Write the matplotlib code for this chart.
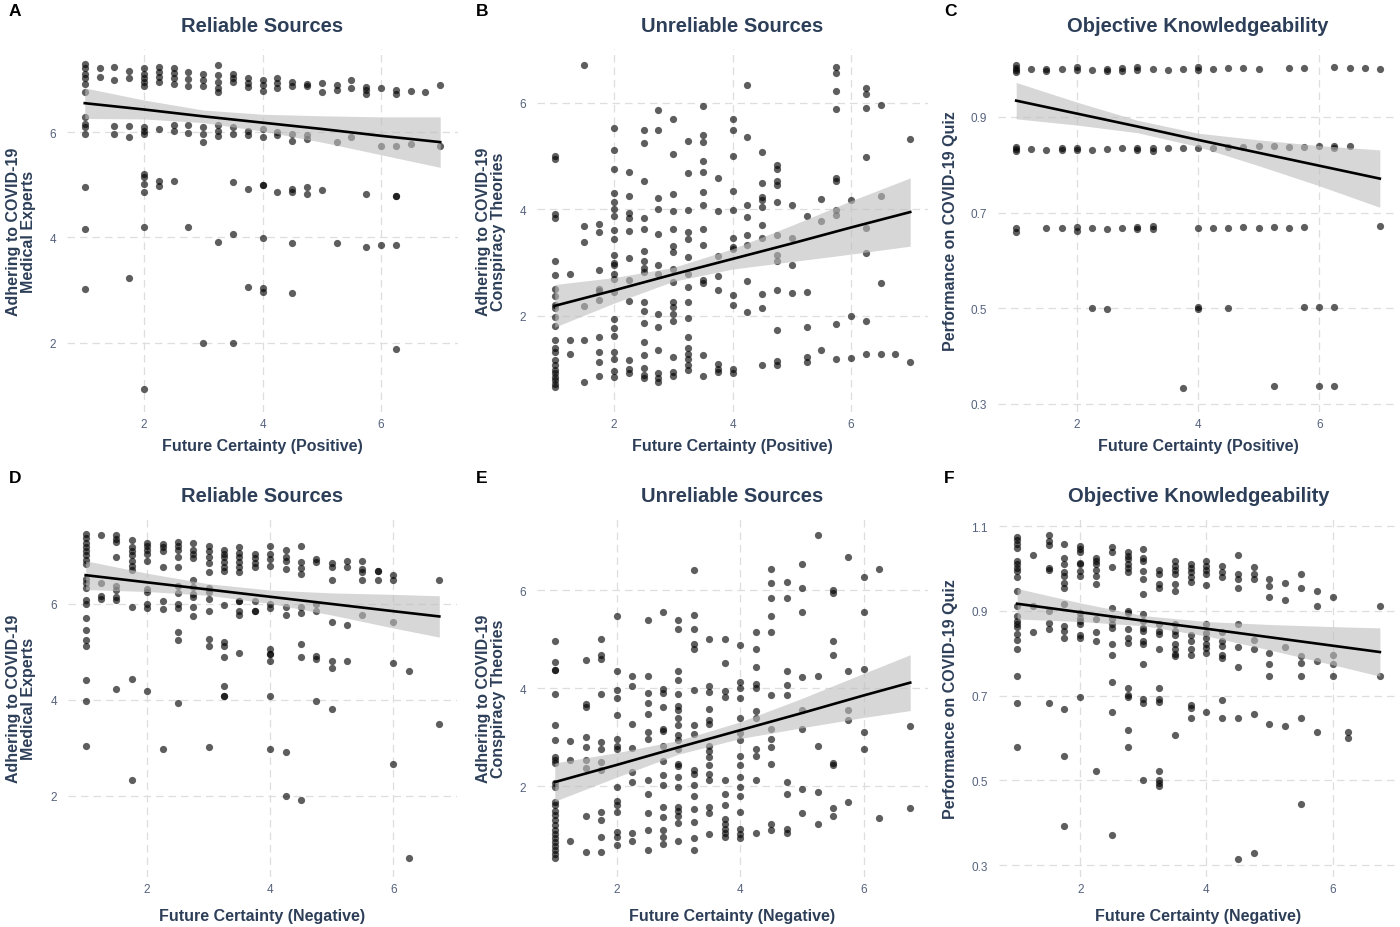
import matplotlib
matplotlib.use("Agg")
import matplotlib.pyplot as plt
import numpy as np

plt.rcParams['font.family'] = ['Liberation Sans', 'DejaVu Sans']

# ---- data: {future certainty: [outcome values]} ----
a_cols = {
    1.0: [7.30, 7.21, 7.11, 7.02, 6.92, 6.76, 6.29, 6.16, 6.10, 5.97, 4.95, 4.15, 3.02],
    1.25: [7.21, 7.05],
    1.5: [7.24, 7.0, 6.11, 5.97],
    1.75: [7.17, 7.03, 6.11, 5.9, 3.22],
    2.0: [7.21, 7.11, 7.02, 6.95, 6.88, 6.10, 6.03, 5.97, 5.21, 5.14, 5.02, 4.86, 4.19, 1.12],
    2.25: [7.24, 7.14, 7.05, 6.95, 6.06, 5.08, 4.98],
    2.5: [7.21, 7.12, 7.02, 6.92, 6.14, 6.03, 5.08],
    2.75: [7.14, 7.01, 6.88, 6.14, 5.99, 4.19],
    3.0: [7.11, 7.0, 6.88, 6.10, 5.97, 5.82, 2.0],
    3.25: [7.27, 7.08, 6.95, 6.84, 6.76, 6.13, 6.03, 5.92, 3.92],
    3.5: [7.11, 7.02, 6.95, 6.10, 5.97, 5.06, 4.06, 2.0],
    3.75: [7.03, 6.94, 6.86, 6.03, 5.94, 4.92, 3.05],
    4.0: [7.0, 6.89, 6.79, 6.06, 5.90, 5.0, 5.0, 3.99, 3.03, 2.97],
    4.25: [7.02, 6.93, 6.84, 6.0, 5.95, 4.86],
    4.5: [6.95, 6.88, 5.97, 5.84, 4.92, 4.87, 3.89, 2.95],
    4.75: [6.92, 6.88, 5.94, 5.86, 4.95, 4.83],
    5.0: [6.94, 6.76, 4.9],
    5.25: [6.90, 6.81, 5.82, 3.89],
    5.5: [7.0, 6.84, 5.9],
    5.75: [6.86, 6.80, 6.73, 4.83, 3.82],
    6.0: [6.83, 5.73, 3.85],
    6.25: [6.81, 6.73, 5.73, 4.79, 4.79, 3.85, 1.87],
    6.5: [6.79, 5.78],
    6.75: [6.76],
    7.0: [6.90, 5.73],
}

b_cols = {
    1.0: [5.01, 4.95, 3.92, 3.84, 3.04, 2.76, 2.51, 2.38, 2.21, 2.15, 1.98, 1.81, 1.54,
          1.39, 1.33, 1.17, 1.08, 0.98, 0.92, 0.86, 0.79, 0.73, 0.67],
    1.25: [2.79, 1.54, 1.28],
    1.5: [6.71, 3.69, 3.39, 2.19, 1.54, 0.76],
    1.75: [3.73, 3.58, 2.86, 2.51, 2.46, 2.29, 1.61, 1.33, 1.13, 0.88],
    2.0: [5.53, 5.11, 4.75, 4.31, 4.14, 4.0, 3.88, 3.61, 3.45, 3.15, 3.0, 2.95, 2.79,
          2.69, 2.45, 1.94, 1.78, 1.63, 1.33, 1.2, 0.96, 0.86],
    2.25: [4.7, 4.25, 3.94, 3.83, 3.59, 3.09, 2.68, 2.28, 1.17, 1.01, 0.92],
    2.5: [5.49, 5.24, 4.54, 3.84, 3.64, 3.21, 3.04, 2.9, 2.83, 2.26, 2.09, 1.86, 1.51,
          1.26, 1.03, 0.9, 0.83],
    2.75: [5.86, 5.49, 4.21, 4.01, 3.54, 2.96, 2.79, 2.04, 1.79, 1.36, 0.92, 0.83, 0.76],
    3.0: [5.69, 5.03, 4.29, 3.97, 3.64, 3.31, 3.2, 2.89, 2.64, 2.26, 2.17, 2.04, 1.9,
          1.23, 0.95, 0.87],
    3.25: [5.29, 4.69, 3.98, 3.58, 3.44, 3.11, 2.78, 2.54, 2.26, 1.96, 1.61, 1.4, 1.29,
           1.2, 1.08, 0.98],
    3.5: [5.94, 5.39, 5.26, 4.91, 4.71, 4.33, 4.08, 3.63, 3.33, 2.67, 2.61, 1.26, 0.87],
    3.75: [4.59, 3.97, 3.13, 2.75, 2.49, 1.09, 1.01, 0.95],
    4.0: [5.69, 5.49, 5.0, 4.34, 3.99, 3.46, 3.29, 3.25, 2.39, 2.21, 1.01, 0.92],
    4.25: [6.33, 5.36, 4.08, 3.86, 3.51, 3.34, 2.65, 2.08],
    4.5: [5.08, 4.5, 4.23, 4.17, 4.04, 3.71, 3.46, 2.42, 2.14, 1.08],
    4.75: [4.84, 4.75, 4.54, 4.46, 4.13, 3.51, 3.14, 3.04, 2.48, 1.73, 1.15, 1.08],
    5.0: [4.09, 3.46, 2.96, 2.43],
    5.25: [3.88, 2.45, 1.79, 1.23, 1.14],
    5.5: [4.19, 3.79, 1.36],
    5.75: [6.67, 6.56, 6.23, 5.89, 4.58, 4.53, 3.98, 3.89, 1.84, 1.19],
    6.0: [4.18, 1.99, 1.21],
    6.25: [6.28, 6.17, 5.91, 4.99, 3.65, 3.19, 1.9, 1.28],
    6.5: [5.95, 4.26, 2.61, 1.28],
    6.75: [1.29],
    7.0: [5.33, 1.13],
}

c_cols = {
    1.0: [1.008, 1.003, 0.998, 0.993, 0.838, 0.833, 0.828, 0.667, 0.660],
    1.25: [1.0, 0.833],
    1.5: [1.0, 0.995, 0.830, 0.667],
    1.75: [1.0, 0.836, 0.830, 0.667],
    2.0: [1.004, 0.998, 0.836, 0.830, 0.670, 0.662],
    2.25: [0.998, 0.830, 0.668, 0.5],
    2.5: [1.0, 0.996, 0.833, 0.665, 0.498],
    2.75: [1.002, 0.995, 0.835, 0.667],
    3.0: [1.004, 0.998, 0.835, 0.830, 0.670, 0.666],
    3.25: [1.0, 0.836, 0.828, 0.672, 0.665],
    3.5: [0.998, 0.835],
    3.75: [1.0, 0.836, 0.333],
    4.0: [1.004, 0.998, 0.836, 0.668, 0.503, 0.498],
    4.25: [1.0, 0.836, 0.667],
    4.5: [1.002, 0.838, 0.667, 0.5],
    4.75: [1.002, 0.838, 0.669],
    5.0: [1.001, 0.84, 0.668],
    5.25: [0.84, 0.669, 0.338],
    5.5: [1.002, 0.838, 0.668],
    5.75: [1.002, 0.838, 0.670, 0.503],
    6.0: [0.84, 0.503, 0.338],
    6.25: [1.004, 0.84, 0.836, 0.503, 0.337],
    6.5: [1.003, 0.84],
    6.75: [1.002],
    7.0: [1.0, 0.671],
}

d_cols = {
    1.0: [7.46, 7.37, 7.28, 7.19, 7.10, 7.01, 6.92, 6.83, 6.52, 6.43, 6.33, 6.08, 6.0,
          5.70, 5.46, 5.24, 5.13, 4.41, 3.98, 3.05],
    1.25: [7.44, 6.44, 6.17, 6.10],
    1.5: [7.44, 7.35, 7.30, 6.98, 6.38, 6.30, 6.14, 6.09, 4.22],
    1.75: [7.33, 7.18, 7.10, 7.01, 6.90, 6.80, 6.71, 5.93, 4.44, 2.34],
    2.0: [7.28, 7.21, 7.12, 7.05, 6.89, 6.31, 6.24, 6.0, 5.91, 4.18],
    2.25: [7.25, 7.18, 7.10, 6.76, 6.07, 5.90, 2.98],
    2.5: [7.30, 7.21, 7.12, 6.98, 6.76, 6.38, 6.22, 6.0, 5.92, 5.41, 5.25, 3.93],
    2.75: [7.28, 7.12, 7.04, 6.96, 6.50, 6.35, 6.21, 6.14, 5.93, 5.74],
    3.0: [7.21, 7.10, 6.97, 6.85, 6.66, 6.33, 6.24, 6.10, 5.86, 5.27, 5.13, 3.02],
    3.25: [7.12, 7.04, 6.97, 6.88, 6.76, 6.68, 5.98, 5.20, 5.13, 4.89, 4.29, 4.09, 4.09],
    3.5: [7.18, 7.07, 6.97, 6.87, 6.76, 6.66, 6.07, 6.07, 5.86, 5.78, 4.97],
    3.75: [7.04, 6.96, 6.85, 6.76, 6.06, 5.86, 5.86],
    4.0: [7.21, 7.04, 6.94, 6.80, 6.0, 5.92, 5.06, 4.96, 4.96, 4.82, 4.09, 2.98],
    4.25: [7.12, 6.97, 6.89, 6.73, 5.93, 5.77, 2.91, 1.99],
    4.5: [7.21, 6.87, 6.75, 6.62, 5.93, 5.81, 5.17, 4.89, 1.91],
    4.75: [6.94, 6.87, 6.0, 5.86, 4.92, 4.85, 3.98],
    5.0: [6.85, 6.76, 6.50, 5.62, 4.82, 4.67, 3.82],
    5.25: [6.89, 6.78, 5.57, 4.82],
    5.5: [6.90, 6.73, 6.66, 6.50, 5.78],
    5.75: [6.69, 6.69, 6.50],
    6.0: [6.61, 6.50, 5.62, 4.77, 2.66],
    6.25: [4.61, 0.71],
    6.75: [6.50, 3.50],
}

e_cols = {
    1.0: [4.95, 4.53, 4.37, 4.37, 3.87, 3.24, 2.93, 2.59, 2.54, 2.47, 2.06, 1.99, 1.67,
          1.61, 1.50, 1.40, 1.30, 1.20, 1.10, 1.02, 0.93, 0.86, 0.77, 0.69, 0.61, 0.53],
    1.25: [2.92, 2.54, 0.87],
    1.5: [4.58, 3.68, 3.61, 3.0, 2.79, 2.54, 2.37, 1.38, 0.66],
    1.75: [5.0, 4.68, 4.59, 3.87, 2.90, 2.76, 2.50, 2.33, 1.47, 1.30, 0.96, 0.66],
    2.0: [5.46, 4.34, 3.96, 3.80, 3.44, 2.96, 2.81, 2.76, 1.99, 1.70, 1.61, 1.47, 1.06,
          0.96, 0.79],
    2.25: [4.25, 4.05, 3.26, 2.78, 2.29, 2.08, 1.04, 0.87],
    2.5: [5.38, 4.25, 3.89, 3.69, 3.46, 3.10, 2.96, 2.13, 1.83, 1.45, 1.10, 0.70],
    2.75: [5.55, 3.98, 3.89, 3.61, 3.17, 3.13, 2.81, 2.51, 2.22, 2.03, 1.57, 1.37, 1.10,
           0.96, 0.82],
    3.0: [5.39, 5.21, 4.34, 4.17, 3.87, 3.64, 3.56, 3.39, 3.24, 3.05, 2.93, 2.76, 2.45,
          2.40, 2.18, 1.98, 1.57, 1.50, 1.38, 1.25, 0.87],
    3.25: [6.41, 5.50, 5.21, 4.89, 4.80, 3.96, 3.24, 3.07, 2.33, 2.25, 2.03, 1.79, 1.54,
           1.27, 0.93, 0.70],
    3.5: [5.0, 4.05, 3.91, 3.58, 3.34, 3.27, 2.81, 2.71, 2.59, 2.42, 2.25, 2.13, 1.57,
          1.44, 1.02],
    3.75: [5.0, 4.51, 3.94, 3.81, 2.13, 1.84, 1.61, 1.32, 1.23, 1.13, 1.04, 0.96],
    4.0: [4.87, 4.12, 4.01, 3.80, 3.39, 3.08, 2.93, 2.62, 2.42, 2.18, 1.99, 1.79, 1.47,
          1.13, 1.03, 0.93],
    4.25: [5.14, 4.80, 4.42, 4.08, 4.0, 3.54, 3.39, 2.76, 2.62, 2.13, 1.04],
    4.5: [6.43, 6.14, 5.83, 5.46, 5.14, 3.85, 3.17, 2.96, 2.79, 2.45, 1.23, 1.10],
    4.75: [6.16, 5.83, 4.34, 4.07, 3.85, 2.08, 1.83, 1.13, 1.04],
    5.0: [6.54, 6.05, 5.55, 4.22, 3.56, 3.17, 1.93, 1.44],
    5.25: [7.13, 4.25, 2.81, 1.88, 1.23],
    5.5: [6.0, 5.93, 4.97, 4.68, 2.47, 2.42, 1.56, 1.38],
    5.75: [6.68, 4.34, 3.56, 3.35, 1.67],
    6.0: [6.26, 5.55, 4.39, 3.10, 2.76],
    6.25: [6.43, 1.35],
    6.75: [3.22, 1.56],
}

f_cols = {
    1.0: [1.075, 1.067, 1.058, 1.048, 1.018, 1.010, 1.002, 0.995, 0.980, 0.947, 0.912,
          0.888, 0.876, 0.868, 0.861, 0.845, 0.831, 0.809, 0.746, 0.683, 0.578],
    1.25: [1.032, 0.912, 0.851],
    1.5: [1.080, 1.064, 1.056, 1.002, 0.996, 0.90, 0.872, 0.857, 0.683],
    1.75: [1.059, 1.024, 1.010, 0.991, 0.983, 0.967, 0.954, 0.916, 0.865, 0.853, 0.837,
           0.669, 0.557, 0.392],
    2.0: [1.054, 1.046, 1.038, 1.014, 1.010, 0.995, 0.983, 0.894, 0.884, 0.876, 0.868,
          0.843, 0.837, 0.697],
    2.25: [1.025, 1.018, 1.010, 0.996, 0.983, 0.963, 0.880, 0.851, 0.829, 0.523],
    2.5: [1.051, 1.038, 1.004, 0.906, 0.880, 0.868, 0.859, 0.823, 0.795, 0.732, 0.662,
          0.370],
    2.75: [1.038, 1.030, 1.022, 1.011, 1.001, 0.991, 0.90, 0.894, 0.857, 0.837, 0.824,
           0.719, 0.701, 0.697, 0.620, 0.578],
    3.0: [1.046, 1.025, 1.018, 0.995, 0.976, 0.939, 0.892, 0.876, 0.859, 0.853, 0.829,
          0.823, 0.774, 0.691, 0.683, 0.502],
    3.25: [0.996, 0.988, 0.963, 0.954, 0.870, 0.853, 0.845, 0.809, 0.719, 0.691, 0.686,
           0.523, 0.502, 0.494, 0.486],
    3.5: [1.018, 1.006, 0.996, 0.988, 0.963, 0.947, 0.870, 0.853, 0.843, 0.823, 0.809,
          0.799, 0.794, 0.607],
    3.75: [1.010, 1.001, 0.991, 0.979, 0.969, 0.843, 0.829, 0.809, 0.796, 0.678, 0.671,
           0.648],
    4.0: [1.018, 1.006, 0.996, 0.987, 0.961, 0.870, 0.849, 0.837, 0.821, 0.813, 0.801,
          0.662],
    4.25: [1.006, 0.993, 0.980, 0.851, 0.828, 0.817, 0.796, 0.788, 0.689, 0.648],
    4.5: [1.032, 0.988, 0.975, 0.954, 0.870, 0.815, 0.768, 0.648, 0.314],
    4.75: [1.004, 0.987, 0.975, 0.831, 0.809, 0.656, 0.329],
    5.0: [0.975, 0.959, 0.933, 0.801, 0.774, 0.746, 0.634],
    5.25: [0.967, 0.926, 0.815, 0.628],
    5.5: [0.988, 0.954, 0.794, 0.778, 0.746, 0.648, 0.445],
    5.75: [0.947, 0.912, 0.782, 0.614],
    6.0: [0.933, 0.795, 0.774, 0.746],
    6.25: [0.614, 0.600],
    6.75: [0.912, 0.746],
}

# fitted line and 95% band
band_x_top = [1, 2, 3, 4, 5, 6, 7]
band_x_bot = [1, 2, 3, 4, 5, 6, 6.75]

a_fit = [6.55, 6.43, 6.30, 6.18, 6.06, 5.93, 5.81]
a_hw = [0.29, 0.18, 0.12, 0.16, 0.25, 0.36, 0.48]
b_fit = [2.19, 2.48, 2.78, 3.07, 3.36, 3.66, 3.95]
b_hw = [0.40, 0.24, 0.13, 0.19, 0.34, 0.50, 0.64]
c_fit = [0.934, 0.907, 0.880, 0.852, 0.825, 0.798, 0.771]
c_hw = [0.038, 0.024, 0.013, 0.014, 0.027, 0.042, 0.060]
d_fit = [6.60, 6.45, 6.30, 6.15, 6.00, 5.85, 5.74]
d_hw = [0.30, 0.19, 0.12, 0.14, 0.23, 0.35, 0.43]
e_fit = [2.08, 2.43, 2.79, 3.14, 3.49, 3.85, 4.11]
e_hw = [0.39, 0.25, 0.14, 0.17, 0.30, 0.45, 0.57]
f_fit = [0.917, 0.897, 0.877, 0.858, 0.838, 0.818, 0.803]
f_hw = [0.036, 0.022, 0.012, 0.017, 0.030, 0.045, 0.057]

titles = ['Reliable Sources', 'Unreliable Sources', 'Objective Knowledgeability']
ylabels = ['Adhering to COVID-19\nMedical Experts',
           'Adhering to COVID-19\nConspiracy Theories',
           'Performance on COVID-19 Quiz']
xlabels = ['Future Certainty (Positive)', 'Future Certainty (Negative)']
letters = ['A', 'B', 'C', 'D', 'E', 'F']

W, H = 1400, 928
title_col = '#2d3e58'
tick_col = '#55627d'

# panel boxes in pixels: left, right, top, bottom
boxes = [
    (67, 458, 50, 413), (537, 928, 50, 413), (998, 1398, 50, 413),
    (68, 457, 520, 878), (537, 928, 520, 878), (999, 1398, 520, 878),
]
xlims = [(0.7, 7.3)] * 3 + [(0.7125, 7.0375)] * 3
ylims = [(0.68, 7.58), (0.197, 7.01), (0.283, 1.042),
         (0.3125, 7.77), (0.143, 7.45), (0.272, 1.117)]
yticks = [[2, 4, 6], [2, 4, 6], [0.3, 0.5, 0.7, 0.9],
          [2, 4, 6], [2, 4, 6], [0.3, 0.5, 0.7, 0.9, 1.1]]
cols = [a_cols, b_cols, c_cols, d_cols, e_cols, f_cols]
fits = [a_fit, b_fit, c_fit, d_fit, e_fit, f_fit]
hws = [a_hw, b_hw, c_hw, d_hw, e_hw, f_hw]

fig = plt.figure(figsize=(W / 100, H / 100), dpi=100)
fig.patch.set_facecolor('white')

for i in range(6):
    l, r, t, b = boxes[i]
    ax = fig.add_axes([l / W, 1 - b / H, (r - l) / W, (b - t) / H])
    xs, ys = [], []
    for xv, yv in cols[i].items():
        xs += [xv] * len(yv)
        ys += yv
    bx = band_x_top if i < 3 else band_x_bot
    fit = np.array(fits[i])
    hw = np.array(hws[i])
    ax.scatter(xs, ys, s=27, color='black', alpha=0.63, linewidths=0, zorder=2)
    ax.fill_between(bx, fit - hw, fit + hw, color='#bdbdbd', alpha=0.6,
                    linewidth=0, zorder=3)
    ax.plot(bx, fit, color='black', linewidth=1.9, zorder=4)
    ax.set_xlim(*xlims[i])
    ax.set_ylim(*ylims[i])
    ax.set_xticks([2, 4, 6])
    ax.set_yticks(yticks[i])
    if i % 3 == 2:
        ax.set_yticklabels([f'{v:.1f}' for v in yticks[i]])
    ax.grid(True, color='#dedede', linestyle=(0, (6, 4)), linewidth=0.9, zorder=0)
    ax.set_axisbelow(True)
    for s in ax.spines.values():
        s.set_visible(False)
    ax.tick_params(length=0, labelsize=8.5, colors=tick_col)
    ax.tick_params(axis='y', pad=8)
    ax.tick_params(axis='x', pad=4)
    ax.set_facecolor('white')

    cx = (l + r) / 2
    fig.text(cx / W, 1 - (t - 23) / H, titles[i % 3], ha='center', va='center',
             fontsize=14.5, fontweight='bold', color=title_col)
    fig.text(cx / W, 1 - (b + [34, 39][i // 3]) / H, xlabels[i // 3], ha='center',
             va='center', fontsize=11.5, fontweight='bold', color=title_col)
    ylx = [21, 491, 951][i % 3]
    fig.text(ylx / W, 1 - ((t + b) / 2) / H, ylabels[i % 3], ha='center',
             va='center', rotation=90, fontsize=11.5, fontweight='bold',
             color=title_col, linespacing=1.0)
    lx = [9, 476, 944][i % 3]
    ly = [11, 479][i // 3]
    fig.text(lx / W, 1 - ly / H, letters[i], ha='left', va='center',
             fontsize=12.5, fontweight='bold', color='black')

fig.savefig('out.png', dpi=100, facecolor='white')
